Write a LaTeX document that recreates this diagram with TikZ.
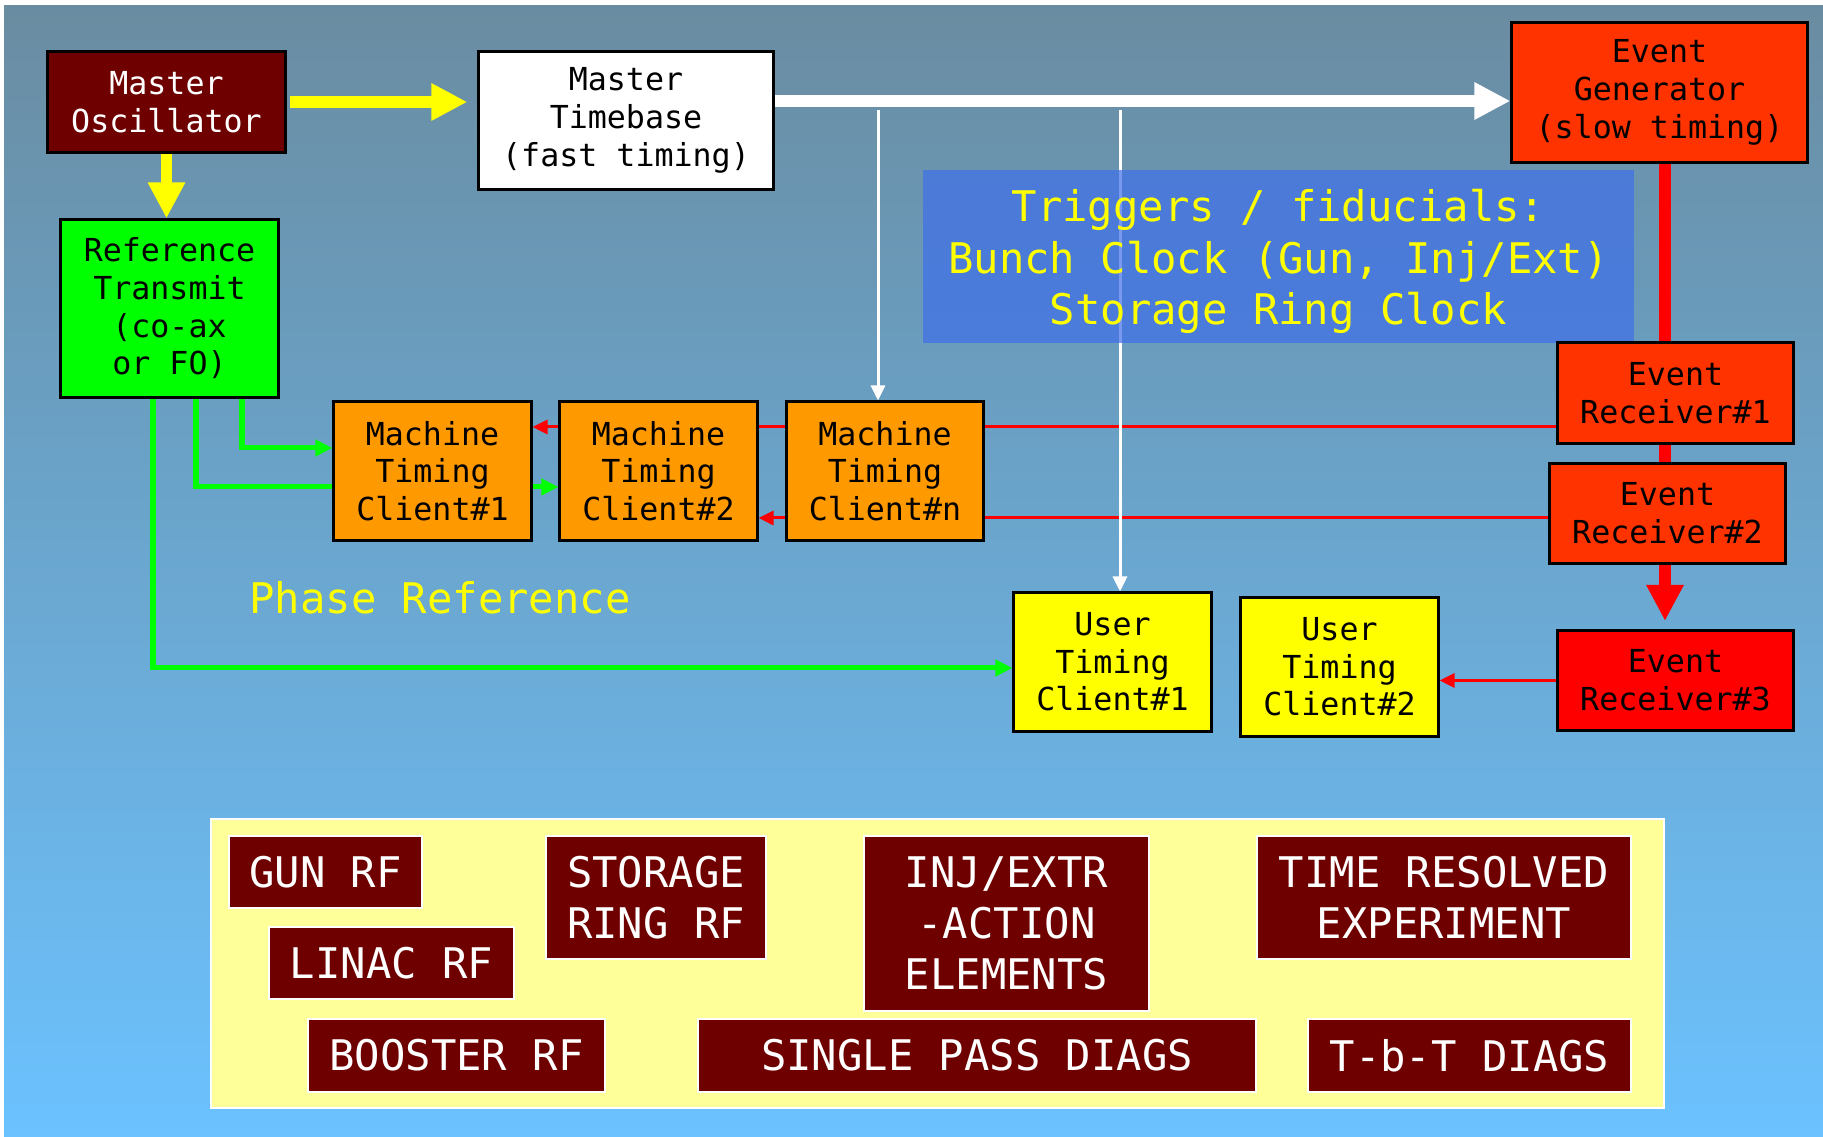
\documentclass[tikz,border=0pt]{standalone}
\usepackage{fontspec}
\setmainfont{DejaVu Sans Mono}
\usetikzlibrary{arrows.meta}
\pgfdeclarelayer{back}
\pgfsetlayers{back,main}
\definecolor{skytop}{RGB}{106,140,161}
\definecolor{skymid}{RGB}{106,172,218}
\definecolor{skybot}{RGB}{107,194,255}
\definecolor{oscred}{RGB}{110,0,0}
\definecolor{evred}{RGB}{255,51,0}
\definecolor{hotred}{RGB}{255,0,0}
\definecolor{mtcorange}{RGB}{255,153,0}
\definecolor{refgreen}{RGB}{0,255,0}
\definecolor{clkyellow}{RGB}{255,255,0}
\definecolor{trigblue}{RGB}{63,111,233}
\definecolor{panelyellow}{RGB}{255,255,153}

\begin{document}
\begin{tikzpicture}[x=0.01cm, y=-0.01cm,
    box/.style={draw=black, line width=0.85pt, align=center, inner sep=0pt, font=\fontsize{9}{10.7}\selectfont},
    tag/.style={draw=white, line width=0.6pt, fill=oscred, text=white, align=center, inner sep=0pt, font=\fontsize{12}{14.6}\selectfont},
    bigarrow/.style={line width=0.115cm, -{Triangle[length=0.36cm,width=0.35cm]}},
    feed/.style={line width=0.05cm, -{Triangle[length=0.17cm,width=0.16cm]}},
    wire/.style={line width=0.03cm, -{Triangle[length=0.15cm,width=0.14cm]}}]
  \useasboundingbox (0,0) rectangle (1823,1137);

  \node[box, fill=oscred, text=white, minimum width=2.37cm, minimum height=1cm] (MO) at (166.5,102) {Master\\Oscillator};
  \node[box, fill=white, minimum width=2.94cm, minimum height=1.37cm] (MT) at (626,120.5) {Master\\Timebase\\(fast timing)};
  \node[box, fill=evred, minimum width=2.95cm, minimum height=1.39cm] (EG) at (1659.5,92.5) {Event\\Generator\\(slow timing)};
  \node[box, fill=refgreen, minimum width=2.17cm, minimum height=1.77cm] (REF) at (169.5,308.5) {Reference\\Transmit\\(co-ax\\or FO)};
  \node[fill=trigblue, fill opacity=0.7, text opacity=1, text=clkyellow, align=center, inner sep=0pt,
        minimum width=7.11cm, minimum height=1.73cm, font=\fontsize{12}{14.7}\selectfont] (trig) at (1278.5,256.5)
        {\raisebox{-0.05cm}[\height][\depth]{\parbox{7cm}{\centering Triggers / fiducials:\\Bunch Clock (Gun, Inj/Ext)\\Storage Ring Clock}}};

  \foreach \n/\x/\y/\c in {1/1675.5/393/evred, 2/1667.5/513.5/evred, 3/1675.5/680.5/hotred}
    \node[box, fill=\c, minimum width=2.35cm, minimum height=1cm] (ER\n) at (\x,\y) {Event\\Receiver\#\n};
  \foreach \n/\x in {1/432.5, 2/658.5, n/885}
    \node[box, fill=mtcorange, minimum width=1.97cm, minimum height=1.38cm] (MTC\n) at (\x,471) {Machine\\Timing\\Client\#\n};
  \foreach \n/\x/\y in {1/1112.5/662, 2/1339.5/667}
    \node[box, fill=clkyellow, minimum width=1.97cm, minimum height=1.38cm] (UTC\n) at (\x,\y) {User\\Timing\\Client\#\n};
  \node[text=clkyellow, font=\fontsize{12}{14}\selectfont] (phase) at (440,598) {Phase Reference};

  % systems fed by the timing clients
  \node[fill=panelyellow, draw=white, line width=0.6pt, minimum width=14.53cm, minimum height=2.89cm] (panel) at (937.5,963.5) {};
  \foreach \n/\x/\y/\w/\h/\txt in {
      gun/325.5/872/1.93/0.72/{GUN RF},
      ring/656/897.5/2.20/1.23/{STORAGE\\RING RF},
      injext/1006.5/923.5/2.85/1.75/{INJ/EXTR\\-ACTION\\ELEMENTS},
      expt/1444/897.5/3.74/1.23/{TIME RESOLVED\\EXPERIMENT},
      linac/391.5/963/2.45/0.72/{LINAC RF},
      booster/456.5/1055.5/2.97/0.73/{BOOSTER RF},
      spdiag/977/1055.5/5.58/0.73/{SINGLE PASS DIAGS},
      tbtdiag/1469.5/1055.5/3.23/0.73/{T-b-T DIAGS}}
    \node[tag, minimum width=\w cm, minimum height=\h cm] (\n) at (\x,\y) {\txt};

  \begin{pgfonlayer}{back}
    \fill[white] (0,0) rectangle (1823,1137);
    \shade[top color=skytop, middle color=skymid, bottom color=skybot] (4,6) rectangle (1823,1137);
    \draw[refgreen, feed] (REF.south -| 242,0) |- (MTC1.west |- 0,448);
    \draw[refgreen, feed] (REF.south -| 196,0) |- (MTC2.west |- 0,487);
    \draw[refgreen, feed] (REF.south -| 153,0) |- (UTC1.west |- 0,668);
    \draw[hotred, wire] (ER1.west |- 0,427) -- (MTC1.east |- 0,427);
    \draw[hotred, wire] (ER2.west |- 0,518) -- (MTC2.east |- 0,518);
    \draw[hotred, wire] (ER3.west) -- (ER3.west -| UTC2.east);
    \coordinate (tap1) at (878,110);
    \coordinate (tap2) at (1120,110);
    \draw[white, wire] (tap1) -- (tap1 |- MTCn.north);
    \draw[white, wire] (tap2) -- (tap2 |- UTC1.north);
    \draw[clkyellow, bigarrow, shorten <=0.03cm, shorten >=0.1cm] (MO.east) -- (MO.east -| MT.west);
    \draw[clkyellow, bigarrow] (MO.south) -- (MO.south |- REF.north);
    \draw[white, bigarrow] (MT.east |- 0,101) -- (EG.west |- 0,101);
    \coordinate (spine) at (1665,0);
    \draw[hotred, line width=0.12cm] (EG.south -| spine) -- (ER1.north -| spine) (ER1.south -| spine) -- (ER2.north -| spine);
    \draw[hotred, bigarrow, shorten >=0.08cm] (ER2.south -| spine) -- (ER3.north -| spine);
  \end{pgfonlayer}
\end{tikzpicture}
\end{document}
